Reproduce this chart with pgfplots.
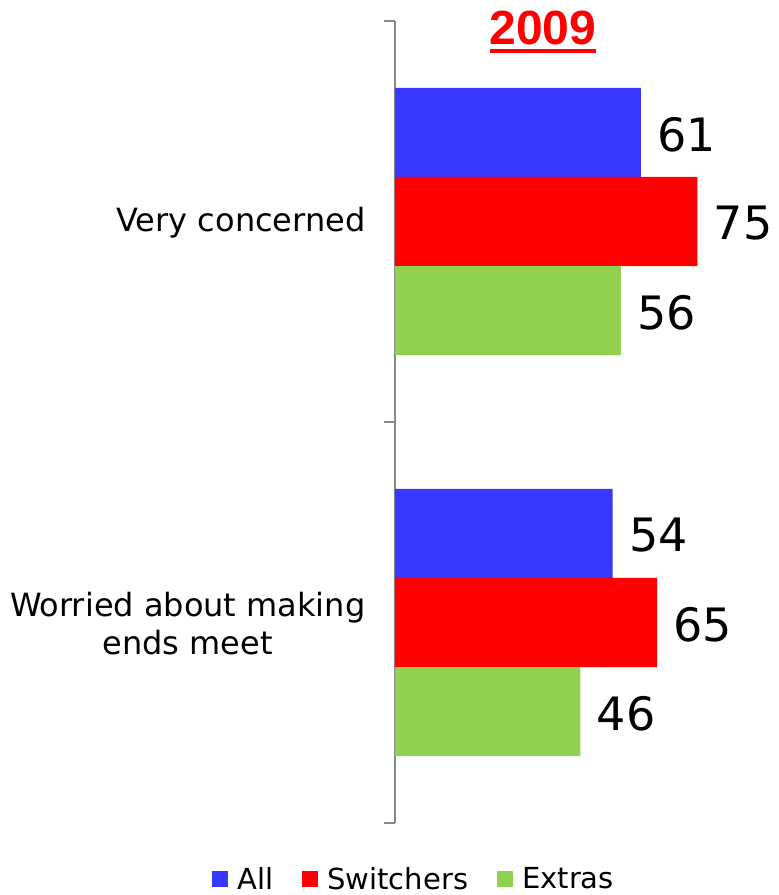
\documentclass[border=0pt]{standalone}
\usepackage{pgfplots}
\pgfplotsset{compat=1.18}
\usepackage{fontspec}
\setmainfont{DejaVu Sans}
\newfontfamily\titlefont{Liberation Sans}
\definecolor{cAll}{RGB}{56,56,255}
\definecolor{cSw}{RGB}{255,0,0}
\definecolor{cEx}{RGB}{146,208,80}
\definecolor{axgray}{RGB}{137,137,137}

\begin{document}
\begin{tikzpicture}[x=1pt,y=1pt]
\useasboundingbox (0,0) rectangle (779,895);
\begin{axis}[
  at={(395pt,72pt)}, anchor=south west,
  scale only axis, width=383pt, height=802pt,
  xbar, bar width=0.222,
  xmin=0, xmax=95,
  ymin=-0.5, ymax=1.5, y dir=reverse,
  axis x line=none, axis y line*=left,
  axis line style={axgray, line width=1.8pt},
  ytick={0,1},
  yticklabels={Very concerned, {Worried about making\\ends meet}},
  major tick length=0pt,
  minor ytick={-0.5,0.5,1.5}, minor tick length=11pt, tick align=outside,
  tick style={axgray, line width=1.8pt},
  yticklabel style={align=center, font=\fontsize{32}{37.5}\selectfont, text=black, xshift=-26pt, yshift=-1pt},
  nodes near coords,
  nodes near coords style={font=\fontsize{46}{50}\selectfont, text=black, xshift=13pt, yshift=-2pt},
  /pgf/number format/assume math mode=true,
  clip=false,
  legend style={draw=none, fill=none, at={(0.05,-0.07)}, anchor=center,
    legend columns=-1, font=\fontsize{29}{32}\selectfont,
    /tikz/every odd column/.append style={column sep=7pt},
    /tikz/every even column/.append style={column sep=27pt}},
  legend image code/.code={\fill[#1] (0pt,-8pt) rectangle (16pt,8pt);},
]
\addplot[fill=cAll, draw=none, bar shift=-0.222] coordinates {(61,0) (54,1)};
\addplot[fill=cSw, draw=none, bar shift=0] coordinates {(75,0) (65,1)};
\addplot[fill=cEx, draw=none, bar shift=0.222] coordinates {(56,0) (46,1)};
\legend{All, Switchers, Extras}
\end{axis}
\node[font=\titlefont\bfseries\fontsize{48}{50}\selectfont, text=red, anchor=base] at (543,850) {2009};
\draw[red, line width=4.5pt] (490,844) -- (596,844);
\end{tikzpicture}
\end{document}
